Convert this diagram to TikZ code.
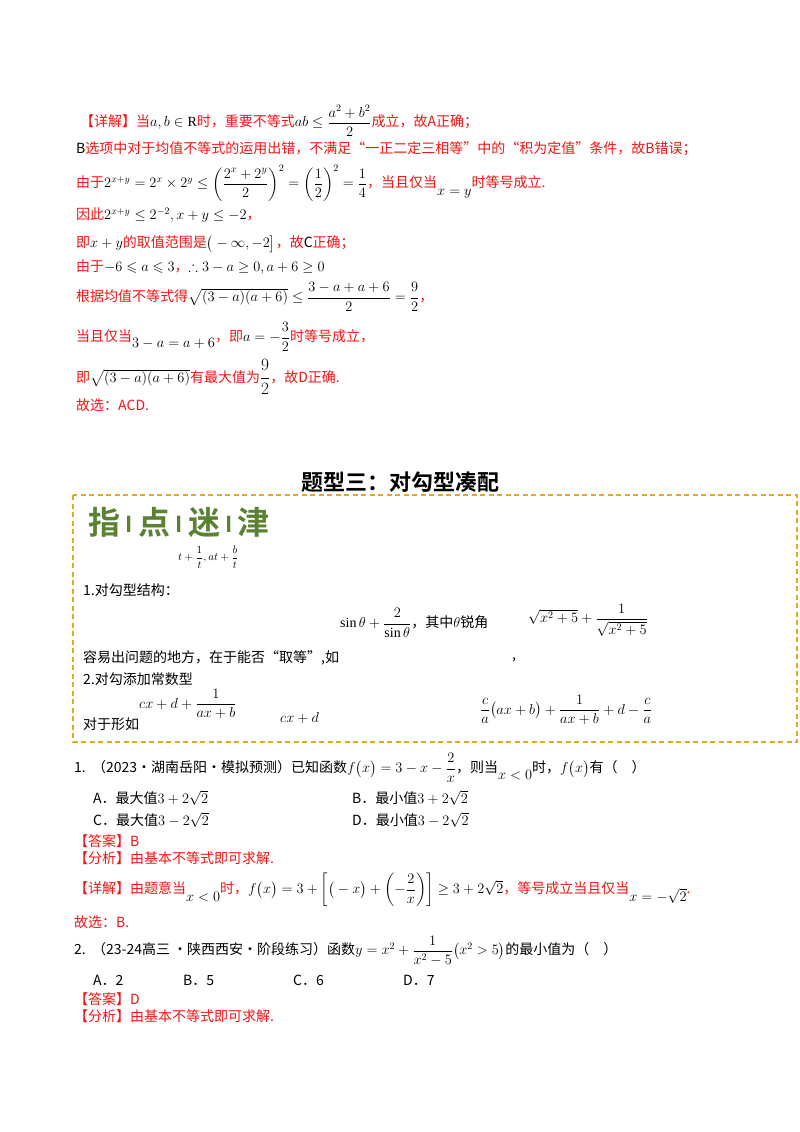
\documentclass[tikz,border=0pt]{standalone}
\usepackage{amsmath,amssymb}
\usepackage{fontspec}
\setmainfont{Liberation Serif}
\newfontfamily\cjk{Noto Sans CJK SC}
\newfontfamily\cjkb{Noto Sans CJK SC Bold}
\definecolor{myred}{RGB}{240,20,20}
\definecolor{myorange}{RGB}{225,170,30}
\definecolor{mygreen}{RGB}{90,130,50}
\newcommand{\K}[1]{\textcolor{black}{#1}}
\newcommand{\sepbar}{\,\raisebox{2pt}{\fontsize{22}{24}\selectfont I}\,}
\tikzset{
 ln/.style={anchor=west,inner sep=0pt,font=\cjk\fontsize{14}{16}\selectfont},
 rl/.style={ln,text=myred},
}
\begin{document}
\begin{tikzpicture}[x=1pt,y=-1pt]
\useasboundingbox (0,0) rectangle (800,1132);
\node[rl] (l1) at (80,121) {【详解】当\K{$a,b\in\mathrm{R}$}时，重要不等式\K{$ab\le\dfrac{a^2+b^2}{2}$}成立，故A正确；};
\node[rl] (l2) at (76,149) {\K{B}选项中对于均值不等式的运用出错，不满足“一正二定三相等”中的“积为定值”条件，故B错误；};
\node[rl] (l3) at (76,183) {由于\K{$2^{x+y}=2^x\times2^y\le\left(\dfrac{2^x+2^y}{2}\right)^2=\left(\dfrac12\right)^2=\dfrac14$}，当且仅当\raisebox{-8pt}{\K{$x=y$}}时等号成立.};
\node[rl] (l4) at (76,215) {因此\K{$2^{x+y}\le2^{-2},x+y\le-2$}，};
\node[rl] (l5) at (76,244) {即\K{$x+y$}的取值范围是\K{$\big(-\infty,-2\big]$}，故\K{C}正确；};
\node[rl] (l6) at (76,267) {由于\K{$-6\leqslant a\leqslant3$}，\K{$\therefore3-a\ge0,a+6\ge0$}};
\node[rl] (l7) at (76,297) {根据均值不等式得\K{$\sqrt{(3-a)(a+6)}\le\dfrac{3-a+a+6}{2}=\dfrac92$}，};
\node[rl] (l8) at (76,337) {当且仅当\raisebox{-6pt}{\K{$3-a=a+6$}}，即\K{$a=-\dfrac32$}时等号成立，};
\node[rl] (l9) at (76,377) {即\K{$\sqrt{(3-a)(a+6)}$}有最大值为\K{\fontsize{19}{21}\selectfont$\dfrac92$}，故D正确.};
\node[rl] (l10) at (76,405) {故选：ACD.};
\node[anchor=center,font=\cjkb\fontsize{22}{24}\selectfont] (title) at (400,482) {题型三：对勾型凑配};
\draw[myorange,line width=1.6pt,dash pattern=on 5pt off 3.5pt] (73,495) rectangle (797,742);
\node[ln,text=mygreen,font=\cjkb\fontsize{32}{34}\selectfont] (zd) at (88,522) {指\sepbar 点\sepbar 迷\sepbar 津};
\node[ln,font=\fontsize{11}{13}\selectfont] (t1) at (178,557) {$t+\dfrac1t,at+\dfrac bt$};
\node[ln] (s1) at (83,590) {1.对勾型结构：};
\node[ln] (s2) at (340,623) {$\sin\theta+\dfrac{2}{\sin\theta}$，其中$\theta$锐角};
\node[ln] (s3) at (528,620) {$\sqrt{x^2+5}+\dfrac{1}{\sqrt{x^2+5}}$};
\node[ln] (s4) at (83,658) {容易出问题的地方，在于能否“取等”,如};
\node[ln] (s4b) at (512,660) {,};
\node[ln] (s5) at (83,679) {2.对勾添加常数型};
\node[ln] (s6) at (139,704) {$cx+d+\dfrac{1}{ax+b}$};
\node[ln] (s7) at (83,724) {对于形如};
\node[ln] (s8) at (280,718) {$cx+d$};
\node[ln] (s9) at (480,710) {$\dfrac ca\big(ax+b\big)+\dfrac1{ax+b}+d-\dfrac ca$};
\node[ln] (q1) at (74,768) {1.\ \ （2023·湖南岳阳·模拟预测）已知函数$f\big(x\big)=3-x-\dfrac2x$，则当\raisebox{-7pt}{$x<0$}时，$f\big(x\big)$有（\quad）};
\node[ln] (a1) at (93,798) {A．最大值$3+2\sqrt2$};
\node[ln] (b1) at (352,798) {B．最小值$3+2\sqrt2$};
\node[ln] (c1) at (93,820) {C．最大值$3-2\sqrt2$};
\node[ln] (d1) at (352,820) {D．最小值$3-2\sqrt2$};
\node[rl] (an1) at (74,841) {【答案】B};
\node[rl] (fx1) at (74,858) {【分析】由基本不等式即可求解.};
\node[rl] (xj1) at (74,890) {【详解】由题意当\raisebox{-8pt}{\K{$x<0$}}时，\K{$f\big(x\big)=3+\left[\big(-x\big)+\left(-\dfrac2x\right)\right]\ge3+2\sqrt2$}，等号成立当且仅当\raisebox{-8pt}{\K{$x=-\sqrt2$}}.};
\node[rl] (gx1) at (74,922) {故选：B.};
\node[ln] (q2) at (74,951) {2.\ \ （23-24高三\ ·陕西西安·阶段练习）函数$y=x^2+\dfrac1{x^2-5}\big(x^2>5\big)$的最小值为（\quad）};
\node[ln] (a2) at (93,980) {A．2};
\node[ln] (b2) at (183,980) {B．5};
\node[ln] (c2) at (293,980) {C．6};
\node[ln] (d2) at (403,980) {D．7};
\node[rl] (an2) at (74,999) {【答案】D};
\node[rl] (fx2) at (74,1016) {【分析】由基本不等式即可求解.};
\end{tikzpicture}
\end{document}
